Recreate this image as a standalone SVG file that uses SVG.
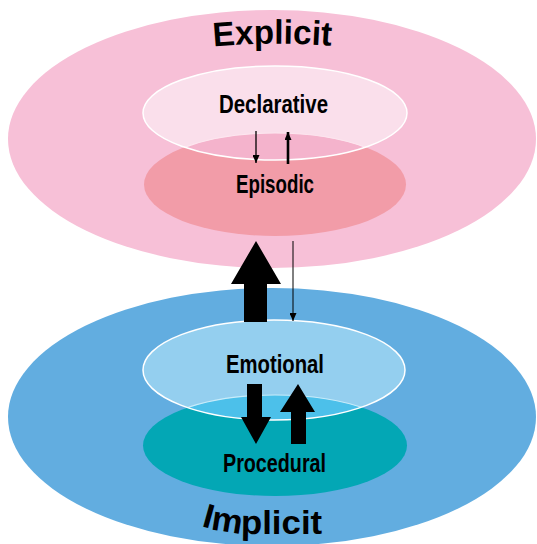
<svg xmlns="http://www.w3.org/2000/svg" width="537" height="544" viewBox="0 0 537 544">
<style>
.lbl{font-family:"Liberation Sans",Arial,sans-serif;font-weight:bold;fill:#000;text-anchor:middle}
.in{font-size:26px}
.big{font-size:34px}
.rim{fill:none;stroke:#fff;stroke-width:1.5}
</style>
<defs>
<marker id="ah" markerUnits="userSpaceOnUse" markerWidth="9" markerHeight="7" refX="8" refY="3.5" orient="auto">
<path d="M0,0 L8,3.5 L0,7 z" fill="#000"/>
</marker>
<clipPath id="clipDecl"><ellipse cx="275" cy="113" rx="132" ry="47"/></clipPath>
<clipPath id="clipEmo"><ellipse cx="274" cy="370" rx="131" ry="50"/></clipPath>
<path id="pExp" d="M200,48 Q270,40 345,47"/>
<path id="pImp" d="M201,526 Q230,535 262,534 L345,534"/>
</defs>

<g id="explicit">
<ellipse cx="272" cy="139" rx="264" ry="129" fill="#f7c0d7"/>
<text class="lbl big"><textPath href="#pExp" startOffset="50%" textLength="118" lengthAdjust="spacingAndGlyphs">Explicit</textPath></text>
</g>

<g id="implicit">
<ellipse cx="272" cy="417" rx="264" ry="129" fill="#62ade0"/>
</g>

<g id="episodic">
<ellipse cx="275" cy="184.5" rx="131" ry="51.5" fill="#f29ca8"/>
<text class="lbl in" x="275" y="193" textLength="78" lengthAdjust="spacingAndGlyphs">Episodic</text>
</g>

<g id="declarative">
<ellipse cx="275" cy="113" rx="132" ry="47" fill="#fadfeb"/>
<ellipse cx="275" cy="184.5" rx="131" ry="51.5" fill="#f4b3cc" stroke="#fde6ef" stroke-width="1.2" clip-path="url(#clipDecl)"/>
<ellipse class="rim" cx="275" cy="113" rx="132" ry="47"/>
<text class="lbl in" x="273.5" y="113" textLength="109" lengthAdjust="spacingAndGlyphs">Declarative</text>
</g>

<g id="procedural">
<ellipse cx="275" cy="445.5" rx="132" ry="50.5" fill="#03a7b5"/>
<text class="lbl in" x="274.5" y="472" textLength="103" lengthAdjust="spacingAndGlyphs">Procedural</text>
</g>

<g id="emotional">
<ellipse cx="274" cy="370" rx="131" ry="50" fill="#94cfef"/>
<ellipse cx="275" cy="445.5" rx="132" ry="50.5" fill="#4cc0ea" stroke="#c8ecfa" stroke-width="1.2" clip-path="url(#clipEmo)"/>
<ellipse class="rim" cx="274" cy="370" rx="131" ry="50"/>
<text class="lbl in" x="275" y="373" textLength="98" lengthAdjust="spacingAndGlyphs">Emotional</text>
</g>

<g id="implicit-label">
<text class="lbl big" style="text-anchor:start"><textPath href="#pImp" startOffset="0" textLength="122" lengthAdjust="spacingAndGlyphs">Implicit</textPath></text>
</g>

<g id="connectors" fill="#000" stroke="#000">
<line x1="256" y1="131" x2="256" y2="163" stroke-width="1.3" marker-end="url(#ah)"/>
<line x1="288" y1="164" x2="288" y2="132" stroke-width="2.6" marker-end="url(#ah)"/>
<line x1="293" y1="241" x2="293" y2="321" stroke-width="1" marker-end="url(#ah)"/>
<polygon stroke="none" points="256,241 281,284 267,284 267,322 244,322 244,284 231,284"/>
<polygon stroke="none" points="247,384 262,384 262,417 271,417 256,444 241,417 247,417"/>
<polygon stroke="none" points="298,384 315,412 306,412 306,444 291,444 291,412 280,412"/>
</g>
</svg>
